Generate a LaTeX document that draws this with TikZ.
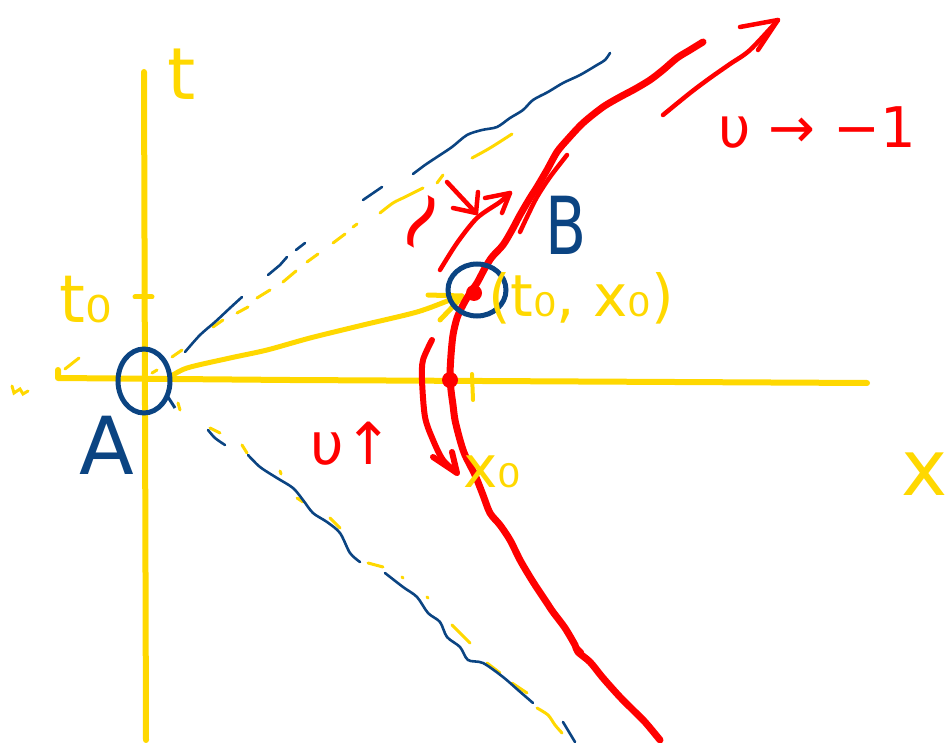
\documentclass[tikz,border=0pt]{standalone}
\usepackage{fontspec}
\setmainfont{DejaVu Sans}
\usetikzlibrary{arrows.meta}
\definecolor{yel}{RGB}{255,216,0}
\definecolor{blu}{RGB}{11,68,130}
\definecolor{rd}{RGB}{255,0,0}
\tikzset{
  ypen/.style={draw=yel,line width=6pt,line cap=round,line join=round},
  ydash/.style={draw=yel,line width=3pt,line cap=round},
  bpen/.style={draw=blu,line width=2.6pt,line cap=round,line join=round},
  bring/.style={draw=blu,line width=5pt},
  rpen/.style={draw=rd,line width=7pt,line cap=round,line join=round},
  rthin/.style={draw=rd,line width=4.5pt,line cap=round,line join=round},
  lab/.style={inner sep=0pt,outer sep=0pt},
}
\begin{document}
\begin{tikzpicture}[x=1pt,y=-1pt]
\useasboundingbox (0,0) rectangle (948,743);
% named points
\coordinate (A) at (144,381);
\coordinate (B) at (474,293);
\coordinate (X0) at (450,380);
% axes
\draw[ypen] (144,72) -- (146,740);
\draw[ypen] (58,370) -- (58,378) -- (290,380) -- (867,383);
\draw[ypen,line width=5pt] (135,297) -- (152,297);
\draw[ypen,line width=4pt] (472,374) -- (473,400);
\draw[ydash] (65,369) -- (79,358);
\draw[ydash] (12,386) -- (14,393) -- (20,389) -- (23,394) -- (28,391);
% yellow upper dashed cone
\foreach \a/\b in {{152,373}/{157,370},{172,357}/{182,350},{213,327}/{223,320},{237,313}/{248,307},{257,298}/{270,290},{283,282}/{296,271},{307,262}/{318,254},{333,243}/{345,234},{353,227}/{357,224},{437,183}/{443,175}}
  \draw[ydash] (\a) -- (\b);
\draw[ydash] plot[smooth] coordinates {(380,213) (393,203) (405,197) (423,188)};
\draw[ydash] plot[smooth] coordinates {(472,158) (490,148) (512,134)};
% yellow lower dashed cone
\foreach \a/\b in {{178,403}/{180,410},{210,428}/{220,433},{242,445}/{247,453},{280,471}/{281,474},{297,498}/{303,502},{330,518}/{340,528},{368,563}/{383,567},{402,577}/{403,578},{427,597}/{428,598},{452,625}/{470,643},{487,663}/{500,673},{512,683}/{527,693}}
  \draw[ydash] (\a) -- (\b);
\draw[ydash] plot[smooth] coordinates {(537,708) (548,715) (555,725) (562,733)};
% blue wavy lines
\draw[bpen] plot[smooth] coordinates {(185,352) (200,335) (215,322) (230,308) (242,297)};
\draw[bpen] (268,275) -- (280,265) -- (287,257);
\draw[bpen] (296,250) -- (305,243);
\draw[bpen] (363,200) -- (382,187);
\draw[bpen] plot[smooth] coordinates {(413,174) (425,165) (437,157) (452,147) (467,135) (482,130) (497,127) (510,118) (523,110) (533,100) (548,92) (563,83) (580,75) (597,65) (605,60) (610,53)};
\draw[bpen] plot[smooth] coordinates {(208,430) (215,438) (225,445)};
\draw[bpen] plot[smooth] coordinates {(248,455) (260,467) (277,478) (293,488) (303,500) (313,513) (327,522) (340,533) (350,553) (360,562)};
\draw[bpen] plot[smooth] coordinates {(385,573) (403,587) (417,597) (428,613) (440,622) (447,637) (460,647) (468,660) (483,663) (503,677) (518,690) (533,703)};
\draw[bpen] (563,722) -- (575,742);
% yellow arrow A -> B
\draw[ypen,line width=5pt] plot[smooth] coordinates {(170,377) (187,368) (230,358) (267,350) (310,338) (363,325) (417,312) (450,300) (462,296)};
\draw[ypen,line width=5pt] (428,295) -- (462,296);
\draw[ypen,line width=5pt] (440,320) -- (462,297);
% red hyperbola
\draw[rpen] plot[smooth,tension=0.5] coordinates {(660,740) (645,722) (633,710) (620,697) (603,678) (590,662) (578,652) (575,645) (565,628) (553,612) (547,603) (537,588) (530,577) (520,560) (510,540) (500,525) (490,513) (483,495) (475,475) (465,455) (460,440) (455,420) (453,405) (451,390) (450,375) (451,355) (453,335) (457,318) (463,305) (470,293) (477,283) (485,268) (492,257) (503,245) (512,230) (520,215) (530,198) (537,187) (547,170) (557,152) (567,140) (583,123) (603,107) (620,97) (635,89) (650,80) (663,70) (677,58) (690,50) (703,42)};
\draw[rthin] plot[smooth] coordinates {(520,232) (527,217) (537,197) (550,177) (567,155)};
\draw[rpen,line width=4pt] (575,645) -- (582,652);
% red dots
\fill[rd] (B) circle (8);
\fill[rd] (X0) circle (8);
% red arrows
\draw[rthin] plot[smooth] coordinates {(440,270) (457,243) (477,218) (500,202) (510,193)};
\draw[rthin] (485,198) -- (510,193) -- (502,213);
\draw[rthin] (447,182) -- (476,213);
\draw[rthin] (453,208) -- (476,213) -- (478,192);
\draw[rthin] plot[smooth] coordinates {(663,115) (690,93) (710,78) (730,64) (750,50) (778,20)};
\draw[rthin] (740,27) -- (778,20) -- (758,50);
\draw[rpen,line width=6pt] plot[smooth] coordinates {(432,340) (423,360) (422,380) (425,417) (433,440) (443,460) (457,473)};
\draw[rpen,line width=6pt] (433,457) -- (457,473) -- (452,452);
% blue circles
\draw[bring] (A) ellipse [x radius=26, y radius=32];
\draw[bring,line width=3pt] (168,397) -- (175,408);
\draw[bring] (477,290) ellipse [x radius=29, y radius=26];
% labels
\node[lab,text=yel,font=\fontsize{72}{72}\selectfont] (tl) at (182,74) {t};
\node[lab,text=yel,font=\fontsize{78}{78}\selectfont] (xl) at (925,474) {x};
\node[lab,text=yel,font=\fontsize{66}{66}\selectfont] (t0l) at (86,300) {t₀};
\node[lab,text=yel,font=\fontsize{58}{58}\selectfont] (pl) at (581,298) {(t₀, x₀)};
\node[lab,text=yel,font=\fontsize{58}{58}\selectfont] (x0l) at (492,472) {x₀};
\node[lab,text=blu,font=\fontsize{80}{80}\selectfont] (Al) at (107,445) {A};
\node[lab,text=blu,font=\fontsize{80}{80}\selectfont] (Bl) at (566,225) {\scalebox{0.75}[1]{B}};
\node[lab,text=rd,font=\fontsize{58}{58}\selectfont] (vu) at (352,444) {υ↑};
\node[lab,text=rd,font=\fontsize{56}{56}\selectfont] (vl) at (817,128) {υ → −1};
\node[lab,text=rd,font=\fontsize{84}{84}\selectfont,rotate=60] (sl) at (430,227) {∼};
\end{tikzpicture}
\end{document}
